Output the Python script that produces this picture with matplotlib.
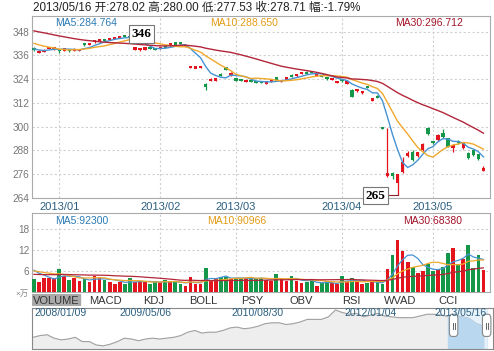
import numpy as np
import pandas as pd
import matplotlib
matplotlib.use("Agg")
import matplotlib.pyplot as plt
from matplotlib.patches import Rectangle, FancyBboxPatch

plt.rcParams['font.family'] = ['Liberation Sans', 'Noto Sans CJK SC', 'DejaVu Sans']

# ---- data ----
months = ['2013/01', '2013/02', '2013/03', '2013/04', '2013/05']
month_start = [5, 25, 40, 61, 79]          # bar index of first trading day

# closes / volumes of the 29 days before the visible window (only feed the MAs)
prior_close = [354, 353, 355, 356, 354, 353, 352, 353, 351, 352, 350, 351, 352, 351,
               350, 349, 350, 349, 350, 346, 346, 345, 345, 344, 344.5, 341, 340, 338.5, 338.3]
prior_vol = [4.2, 5.0, 3.8, 4.6, 4.9, 4.1, 4.4, 5.2, 4.0, 4.7, 4.3, 4.8, 4.5, 3.9, 4.6,
             5.1, 4.2, 4.4, 4.7, 4.6, 5.5, 6.2, 5.6, 6.0, 5.9, 7.2, 6.5, 6.9, 6.6]

open_ = [339.6, 337.4, 337.9, 339.8, 339.2, 339.0, 338.7, 339.0, 338.5, 338.4,
         342.1, 341.4, 342.8, 343.2, 344.2, 344.0, 344.6, 345.0, 346.0, 345.6,
         339.0, 338.7, 339.2, 339.8, 339.6, 339.4, 340.7, 341.2, 342.3, 342.8,
         340.6, 329.8, 329.7, 329.9, 321.8, 323.2, 323.3, 326.8, 329.9, 326.0,
         324.2, 324.0, 322.9, 323.1, 323.0, 322.8, 322.0, 322.7, 324.5, 322.9,
         324.0, 326.2, 325.6, 326.9, 327.6, 327.9, 325.8, 326.0, 324.8, 323.7,
         322.2, 323.8, 322.0, 318.6, 318.0, 317.0, 320.5, 313.5, 315.4, 299.5,
         274.9, 276.3, 271.4, 277.3, 285.0, 287.4, 285.0, 288.3, 299.2, 292.8,
         293.3, 296.7, 294.2, 289.1, 292.8, 289.1, 286.6, 288.0, 286.0, 278.02]
high = [340.0, 338.6, 339.0, 340.3, 340.4, 339.4, 339.6, 339.3, 339.6, 339.2,
        342.4, 342.1, 343.9, 344.1, 344.5, 344.7, 345.5, 345.9, 346.1, 346.2,
        340.3, 339.7, 340.1, 340.0, 339.9, 340.2, 341.0, 342.2, 342.6, 343.0,
        341.4, 330.6, 330.4, 330.7, 322.0, 324.5, 324.6, 327.1, 330.2, 327.4,
        324.5, 324.3, 323.7, 323.3, 323.3, 323.1, 322.9, 323.4, 324.6, 323.8,
        324.9, 326.5, 326.6, 327.8, 327.9, 328.2, 326.6, 326.3, 325.1, 324.5,
        323.1, 324.1, 322.9, 318.9, 319.0, 318.2, 320.8, 314.3, 316.2, 299.6,
        299.2, 277.0, 276.2, 284.9, 287.5, 288.0, 287.4, 292.0, 299.6, 293.0,
        296.1, 299.0, 294.5, 291.2, 293.2, 292.0, 287.0, 288.4, 286.3, 280.00]
low = [338.2, 337.0, 337.6, 339.5, 338.9, 337.3, 338.4, 337.6, 338.2, 338.1,
       341.0, 341.1, 342.5, 342.9, 343.4, 343.7, 344.3, 344.8, 345.1, 344.6,
       338.7, 338.4, 338.9, 339.0, 338.7, 339.1, 339.9, 340.9, 341.5, 341.8,
       340.3, 329.5, 329.4, 329.6, 318.6, 322.9, 323.0, 325.5, 328.5, 325.7,
       323.1, 323.0, 322.6, 322.5, 322.1, 321.9, 321.7, 322.4, 323.4, 322.6,
       323.7, 325.1, 325.3, 326.6, 326.7, 326.9, 325.5, 325.2, 323.7, 323.4,
       321.9, 322.7, 321.7, 314.9, 317.7, 316.7, 319.5, 313.2, 314.6, 299.0,
       274.8, 273.8, 265.5, 276.8, 284.6, 282.6, 284.6, 287.8, 296.0, 291.5,
       293.0, 294.4, 289.5, 287.2, 291.3, 288.8, 283.8, 285.1, 283.2, 277.53]
close = [338.7, 338.2, 338.6, 339.9, 340.0, 338.3, 339.2, 338.3, 339.3, 338.9,
         341.4, 341.8, 343.6, 343.8, 343.7, 344.4, 345.2, 345.6, 345.4, 345.0,
         339.9, 339.4, 339.8, 339.3, 339.0, 339.9, 340.2, 341.9, 341.8, 342.1,
         341.1, 330.3, 330.1, 330.4, 320.2, 324.2, 324.3, 325.8, 328.8, 327.0,
         323.4, 323.3, 323.4, 322.8, 322.4, 322.2, 322.6, 323.1, 324.2, 323.5,
         324.6, 325.4, 326.3, 327.5, 327.0, 327.2, 326.3, 325.5, 324.0, 324.2,
         322.8, 323.0, 322.6, 315.2, 318.7, 317.9, 319.8, 314.0, 314.95, 299.2,
         276.5, 275.5, 275.9, 282.3, 286.9, 283.2, 287.0, 291.1, 296.3, 292.0,
         295.8, 294.7, 289.78, 290.8, 291.6, 291.6, 284.21, 285.5, 283.8, 278.71]
volume = [3.7, 2.9, 3.9, 3.9, 3.9, 6.5, 4.6, 3.4, 3.9, 3.1,
          3.7, 2.9, 4.6, 4.1, 3.4, 2.9, 2.3, 2.9, 2.2, 3.9,
          2.9, 2.9, 2.9, 2.4, 3.1, 2.7, 3.4, 2.9, 2.7, 2.2,
          1.8, 4.3, 2.4, 2.4, 6.7, 3.4, 3.9, 4.3, 4.3, 3.7,
          3.7, 3.9, 3.9, 3.9, 3.9, 3.9, 3.4, 3.0, 5.0, 3.6,
          3.0, 4.4, 3.2, 2.6, 2.8, 3.4, 1.8, 2.5, 3.0, 2.5,
          2.2, 4.4, 3.2, 4.0, 3.0, 2.2, 2.6, 3.0, 2.8, 2.4,
          6.6, 10.4, 14.775, 11.7, 8.6, 7.0, 5.5, 5.9, 8.0, 5.9,
          6.4, 7.1, 11.016, 12.4, 7.9, 9.3, 13.2, 6.9, 10.6, 6.15]

# long history for the navigator (monthly, 2008/01 .. 2013/05)
nav_price = [215, 225, 230, 210, 200, 205, 215, 190, 190, 170, 165, 175,
             190, 210, 205, 195, 205, 210, 205, 210, 215, 225, 245, 255,
             240, 245, 245, 255, 270, 275, 265, 270, 280, 295, 300, 300,
             290, 295, 305, 320, 320, 320, 335, 375, 360, 350, 355, 335,
             345, 355, 340, 335, 330, 330, 330, 340, 350, 350, 345, 338,
             340, 335, 325, 295, 280]
nav_labels = ['2008/01/09', '2009/05/06', '2010/08/30', '2012/01/04', '2013/05/16']
nav_label_pos = [0, 16, 31.9, 48, 64.5]
tabs = ['VOLUME', 'MACD', 'KDJ', 'BOLL', 'PSY', 'OBV', 'RSI', 'WVAD', 'CCI']

# ---- derived ----
o = np.array(open_); h = np.array(high); l = np.array(low); c = np.array(close)
v = np.array(volume)
n = len(c)
idx = np.arange(n)
up = c >= o
RED, GREEN = '#e3141c', '#15974a'
cols = np.where(up, RED, GREEN)

cs = pd.Series(prior_close + close)
vs = pd.Series(prior_vol + volume)
k = len(prior_close)
ma = {m: cs.rolling(m).mean().values[k:] for m in (5, 10, 30)}
vma = {m: vs.rolling(m).mean().values[k:] for m in (5, 10, 30)}
MA_COL = {5: '#4693d3', 10: '#f0a82c', 30: '#b3263a'}
TXT_COL = {5: '#2a7ab5', 10: '#e39b15', 30: '#a3142a'}

W, H = 494, 351
fig = plt.figure(figsize=(W / 100, H / 100), dpi=100)


def box(x0, y0, x1, y1):
    return [x0 / W, 1 - y1 / H, (x1 - x0) / W, (y1 - y0) / H]


grid_kw = dict(color='#d0d0d0', linestyle=(0, (2, 2)), linewidth=0.8)

# title
fig.text(33 / W, 1 - 8 / H,
         f"2013/05/16 开:{o[-1]:.2f} 高:{h[-1]:.2f} 低:{l[-1]:.2f} 收:{c[-1]:.2f} "
         f"幅:{(c[-1] / c[-2] - 1) * 100:.2f}%",
         fontsize=8.4, color='#222222', va='center')

# ---- main candle panel ----
ax = fig.add_axes(box(32, 16, 490, 198))
ax.set_xlim(-0.38, 90.3)
ax.set_ylim(264, 355.9)
ax.vlines(idx, l, h, colors=cols, linewidth=0.9, zorder=3)
body = np.maximum(np.abs(c - o), 1.1)
mid = (o + c) / 2
ax.bar(idx, body, bottom=mid - body / 2, width=0.66, color=cols, zorder=4)
for m in (5, 10, 30):
    ax.plot(idx, ma[m], color=MA_COL[m], linewidth=1.0, zorder=5)
ax.set_yticks(np.arange(264, 349, 12))
ax.set_xticks(month_start)
ax.set_xticklabels(months)
ax.tick_params(axis='y', length=0, labelsize=7.2, labelcolor='#777777', pad=2)
ax.tick_params(axis='x', length=0, labelsize=8, labelcolor='#2b5f80', pad=3)
ax.grid(True, **grid_kw)
ax.set_axisbelow(True)
for s in ax.spines.values():
    s.set_color('#aaaaaa')
ax.text(0.05, 0.962, f"MA5:{ma[5][-1]:.3f}", transform=ax.transAxes, color=TXT_COL[5],
        fontsize=7.5, va='center')
ax.text(0.389, 0.962, f"MA10:{ma[10][-1]:.3f}", transform=ax.transAxes, color=TXT_COL[10],
        fontsize=7.5, va='center')
ax.text(0.793, 0.962, f"MA30:{ma[30][-1]:.3f}", transform=ax.transAxes, color=TXT_COL[30],
        fontsize=7.5, va='center')

# max / min markers
ih, il = int(np.argmax(h)), int(np.argmin(l))
ax.text(ih + 0.3, h[ih] + 0.6, f"{int(h[ih])}", fontsize=9.5, fontweight='bold',
        family='Liberation Serif', ha='left', va='center', zorder=6,
        bbox=dict(boxstyle='square,pad=0.2', fc='white', ec='#777777', lw=0.8))
ax.plot([il - 1.8, il], [l[il], l[il]], color='#8a2030', lw=0.8, clip_on=False, zorder=6)
ax.text(il - 4.3, l[il] - 0.4, f"{int(l[il])}", fontsize=9.5, fontweight='bold',
        family='Liberation Serif', ha='center', va='center', zorder=6, clip_on=False,
        bbox=dict(boxstyle='square,pad=0.2', fc='white', ec='#777777', lw=0.8))

# ---- volume panel ----
axv = fig.add_axes(box(32, 213, 490, 292))
axv.set_xlim(-0.38, 90.3)
axv.set_ylim(0, 22.4)
axv.bar(idx, v, width=0.74, color=cols, zorder=3)
for m in (5, 10, 30):
    axv.plot(idx, vma[m], color=MA_COL[m], linewidth=0.9, zorder=4)
axv.set_yticks([6, 12, 18])
axv.set_xticks(month_start)
axv.set_xticklabels([])
axv.tick_params(length=0, labelsize=7.2, labelcolor='#777777', pad=2)
axv.grid(True, **grid_kw)
axv.set_axisbelow(True)
for s in axv.spines.values():
    s.set_color('#aaaaaa')
axv.text(0.05, 0.9, f"MA5:{vma[5][-1] * 1e4:.0f}", transform=axv.transAxes,
         color=TXT_COL[5], fontsize=7.5, va='center')
axv.text(0.382, 0.9, f"MA10:{vma[10][-1] * 1e4:.0f}", transform=axv.transAxes,
         color=TXT_COL[10], fontsize=7.5, va='center')
axv.text(0.81, 0.9, f"MA30:{vma[30][-1] * 1e4:.0f}", transform=axv.transAxes,
         color=TXT_COL[30], fontsize=7.5, va='center')
fig.text(15 / W, 1 - 294 / H, "×万", fontsize=6, color='#888888', va='center')

# ---- indicator tabs ----
axt = fig.add_axes(box(32, 294, 473, 306))
axt.set_xlim(32, 473)
axt.set_ylim(0, 1)
axt.set_facecolor('#e6e6e6')
axt.add_patch(Rectangle((32, 0), 48, 1, color='#a9a9a9'))
tab_x = [56, 105.5, 154, 203, 252, 301.5, 351, 400, 448]
for t, x in zip(tabs, tab_x):
    axt.text(x, 0.45, t, ha='center', va='center', fontsize=8, color='#333333')
axt.axis('off')
axt.patch.set_visible(True)

# ---- navigator ----
axn = fig.add_axes(box(32, 308, 493, 349))
mi = np.arange(len(nav_price))
axn.set_xlim(-0.14, 65.4)
axn.set_ylim(146.5, 386.7)
axn.fill_between(mi, nav_price, 146.5, color='#eeeeee', zorder=1)
axn.plot(mi, nav_price, color='#a0a0a0', lw=0.8, zorder=2)
sel = mi >= 59
axn.fill_between(mi[sel], np.array(nav_price)[sel], 146.5, color='#b9d7ef', zorder=2)
axn.axvspan(59.8, 64.5, color='#b9d7ef', alpha=0.35, zorder=1)
for hx in (59.8, 64.5):
    axn.add_patch(FancyBboxPatch((hx - 0.6, 220), 1.2, 130,
                                 boxstyle='round,pad=0,rounding_size=0.4',
                                 fc='white', ec='#888888', lw=0.8, zorder=5,
                                 mutation_aspect=60))
    axn.plot([hx - 0.15, hx - 0.15], [265, 300], color='#666666', lw=0.7, zorder=6)
    axn.plot([hx + 0.15, hx + 0.15], [265, 300], color='#666666', lw=0.7, zorder=6)
for j, (t, x) in enumerate(zip(nav_labels, nav_label_pos)):
    ha = 'left' if j == 0 else ('right' if j == len(nav_labels) - 1 else 'center')
    axn.text(x if j else 0.2, 355, t, ha=ha, va='center', fontsize=7.5, color='#2b5f80',
             zorder=7)
axn.set_xticks([])
axn.set_yticks([])
for s in axn.spines.values():
    s.set_color('#888888')
    s.set_linewidth(0.8)

fig.savefig('out.png', dpi=100)
